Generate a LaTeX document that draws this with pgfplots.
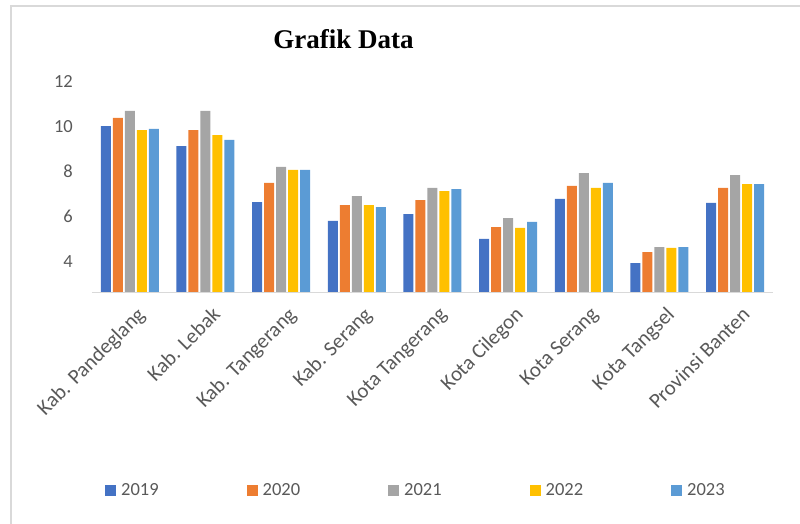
\documentclass[border=0pt]{standalone}
\usepackage{pgfplots}
\pgfplotsset{compat=1.18}
\usepackage{fontspec}
\setmainfont{Carlito}
\newfontfamily\titlefont{Liberation Serif}
\definecolor{cA}{HTML}{4472C4}
\definecolor{cB}{HTML}{ED7D31}
\definecolor{cC}{HTML}{A5A5A5}
\definecolor{cD}{HTML}{FFC000}
\definecolor{cE}{HTML}{5B9BD5}
\definecolor{txt}{HTML}{595959}
\definecolor{axl}{HTML}{D9D9D9}
\begin{document}
\begin{tikzpicture}
\useasboundingbox (0,0) rectangle (800pt,-524pt);
\clip (0,0) rectangle (800pt,-524pt);
\draw[axl, line width=1.2pt] (11pt,-530pt) -- (11pt,-6pt) -- (810pt,-6pt);
\node[font=\titlefont\bfseries\fontsize{27}{30}\selectfont, anchor=base] at (343.4pt,-48.3pt) {Grafik Data};
\begin{axis}[
  at={(92pt,-292.3pt)}, anchor=south west,
  scale only axis, width=681pt, height=210.8pt,
  ybar=2pt, bar width=10pt,
  xmin=-0.5, xmax=8.5, ymin=2.63, ymax=12,
  ytick={4,6,8,10,12},
  xtick={0,...,8},
  xticklabels={Kab. Pandeglang,Kab. Lebak,Kab. Tangerang,Kab. Serang,Kota Tangerang,Kota Cilegon,Kota Serang,Kota Tangsel,Provinsi Banten},
  x tick label style={rotate=45, anchor=north east, font=\fontsize{21}{24}\selectfont, text=txt, yshift=-10pt, xshift=-2pt},
  yticklabel style={anchor=east, inner sep=0pt, font=\fontsize{18.5}{22}\selectfont, text=txt},
  yticklabel shift=19pt,
  /pgf/number format/assume math mode=true,
  major tick length=0pt,
  axis line style={draw=none},
  legend columns=5,
  legend style={at={(0.0191,-0.941)}, anchor=west, draw=none, inner sep=0pt,
    font=\fontsize{18.5}{22}\selectfont, text=txt,
    /tikz/every odd column/.append style={column sep=3pt},
    /tikz/every even column/.append style={column sep=86pt}},
  legend image code/.code={\fill[#1] (0pt,-5.5pt) rectangle (11pt,5.5pt);},
]
\addplot[fill=cA, draw=none] coordinates {(0,10.02) (1,9.13) (2,6.64) (3,5.80) (4,6.11) (5,5.00) (6,6.78) (7,3.93) (8,6.60)};
\addplot[fill=cB, draw=none] coordinates {(0,10.38) (1,9.84) (2,7.49) (3,6.51) (4,6.73) (5,5.53) (6,7.36) (7,4.42) (8,7.27)};
\addplot[fill=cC, draw=none] coordinates {(0,10.69) (1,10.69) (2,8.20) (3,6.91) (4,7.27) (5,5.93) (6,7.93) (7,4.64) (8,7.84)};
\addplot[fill=cD, draw=none] coordinates {(0,9.84) (1,9.62) (2,8.07) (3,6.51) (4,7.13) (5,5.49) (6,7.27) (7,4.60) (8,7.44)};
\addplot[fill=cE, draw=none] coordinates {(0,9.89) (1,9.40) (2,8.07) (3,6.42) (4,7.22) (5,5.76) (6,7.49) (7,4.64) (8,7.44)};
\legend{2019,2020,2021,2022,2023}
\draw[axl, line width=1.3pt] (rel axis cs:0,0) -- (rel axis cs:1,0);
\end{axis}
\end{tikzpicture}
\end{document}
